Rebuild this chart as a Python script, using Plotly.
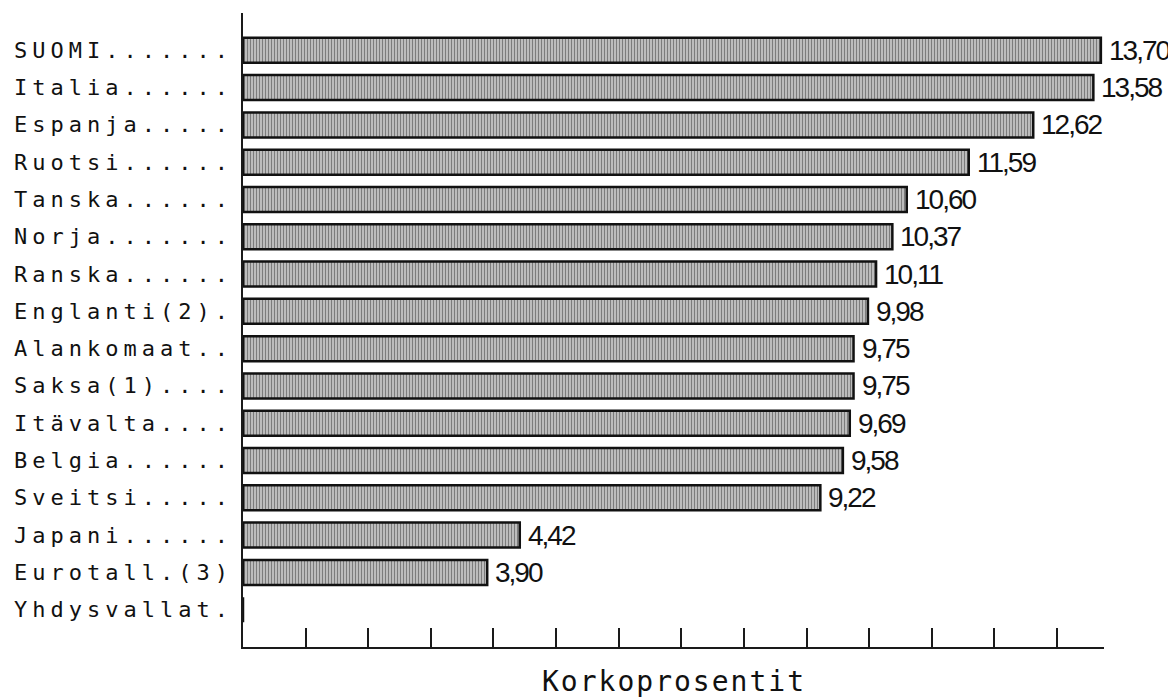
import plotly.graph_objects as go

countries = ["SUOMI.......", "Italia......", "Espanja.....", "Ruotsi......", "Tanska......",
             "Norja.......", "Ranska......", "Englanti(2).", "Alankomaat..", "Saksa(1)....",
             "Itävalta....", "Belgia......", "Sveitsi.....", "Japani......", "Eurotall.(3)",
             "Yhdysvallat."]
values = [13.70, 13.58, 12.62, 11.59, 10.60, 10.37, 10.11, 9.98, 9.75, 9.75,
          9.69, 9.58, 9.22, 4.42, 3.90, None]
value_labels = ["13,70", "13,58", "12,62", "11,59", "10,60", "10,37", "10,11", "9,98",
                "9,75", "9,75", "9,69", "9,58", "9,22", "4,42", "3,90", ""]
tick_values = list(range(1, 14))
axis_title = "Korkoprosentit"

# page has an 8px body margin; size the figure so it fills the window exactly
W, H = 1168, 689
ML, MR, MT, MB = 235, 72, 5, 50
PW = W - ML - MR
PH = H - MT - MB

ypos = list(range(len(countries)))
xs = [v if v is not None else 0 for v in values]

fig = go.Figure()
fig.add_trace(go.Bar(
    x=xs, y=ypos, orientation="h", width=0.67,
    marker=dict(color="white", line=dict(color="#111111", width=2.5),
                pattern=dict(shape="|", fgcolor="#111111", bgcolor="#e6e6e6",
                             size=3, solidity=0.6)),
    hoverinfo="skip", showlegend=False,
))

mono = "DejaVu Sans Mono"
valfont = "Liberation Sans, Arial, sans-serif"
ann = []
for i, name in enumerate(countries):
    ann.append(dict(
        x=(4 - ML) / PW, xref="paper", y=i, yref="y", xanchor="left", yanchor="middle",
        text='<span style="letter-spacing:5px">' + name + '</span>',
        showarrow=False, font=dict(family=mono, size=22, color="#111")))
for i, (v, lab) in enumerate(zip(values, value_labels)):
    if v is None:
        continue
    ann.append(dict(
        x=v, xref="x", y=i, yref="y", xanchor="left", yanchor="middle", xshift=6,
        text='<span style="letter-spacing:-2px">' + lab + '</span>',
        showarrow=False, font=dict(family=valfont, size=28, color="#111")))
ann.append(dict(
    x=0.5, xref="paper", y=-(673 - (H - MB)) / PH, yref="paper", xanchor="center",
    yanchor="middle", text='<span style="letter-spacing:2px">' + axis_title + '</span>',
    showarrow=False, font=dict(family=mono, size=28, color="#111")))

fig.update_layout(
    width=W, height=H, margin=dict(l=ML, r=MR, t=MT, b=MB),
    paper_bgcolor="white", plot_bgcolor="white",
    annotations=ann,
    xaxis=dict(range=[0, 13.75], showgrid=False, zeroline=False,
               showline=True, linecolor="#1a1a1a", linewidth=2,
               tickmode="array", tickvals=tick_values, ticks="inside",
               ticklen=19, tickwidth=2, tickcolor="#1a1a1a", showticklabels=False),
    yaxis=dict(range=[16, -1], showgrid=False, zeroline=False,
               showline=True, linecolor="#1a1a1a", linewidth=2,
               showticklabels=False, ticks=""),
)
fig.write_html("out.html")
